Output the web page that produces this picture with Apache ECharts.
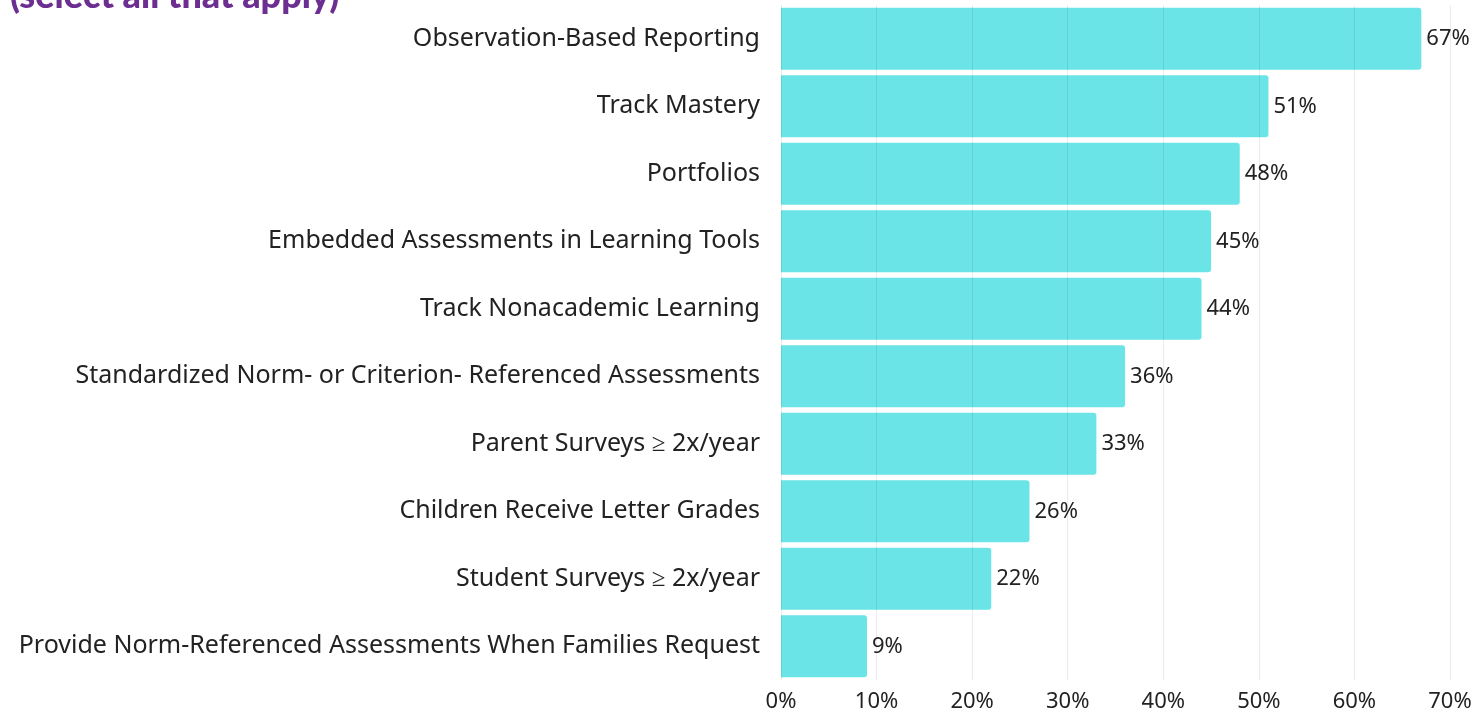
<!DOCTYPE html>
<html>
<head>
<meta charset="utf-8">
<script src="https://cdn.jsdelivr.net/npm/echarts@6/dist/echarts.min.js"></script>
<style>
  html, body { margin: 0; padding: 0; background: #fff; }
  #chart { width: 1481px; height: 715px; }
</style>
</head>
<body>
<div id="chart"></div>
<script>
// categories top to bottom
const categories = [
  'Observation-Based Reporting',
  'Track Mastery',
  'Portfolios',
  'Embedded Assessments in Learning Tools',
  'Track Nonacademic Learning',
  'Standardized Norm- or Criterion- Referenced Assessments',
  'Parent Surveys \u2265 2x/year',
  'Children Receive Letter Grades',
  'Student Surveys \u2265 2x/year',
  'Provide Norm-Referenced Assessments When Families Request'
]
const values = [67, 51, 48, 45, 44, 36, 33, 26, 22, 9]
const titleText = '(select all that apply)'

const chart = echarts.init(document.getElementById('chart'), null, { renderer: 'canvas' })

const option = {
  animation: false,
  textStyle: { fontFamily: 'Noto Sans' },
  graphic: [
    {
      type: 'text',
      left: 10,
      top: -22,
      style: {
        text: titleText,
        fill: '#6c2e91',
        font: '900 36px Lato'
      }
    }
  ],
  grid: {
    left: 781,
    right: 31,
    top: 5,
    bottom: 35
  },
  xAxis: {
    type: 'value',
    min: 0,
    max: 70,
    interval: 10,
    z: 3,
    axisLine: { show: false },
    axisTick: { show: false },
    axisLabel: {
      formatter: '{value}%',
      fontSize: 22,
      color: '#222',
      margin: 11
    },
    splitLine: { lineStyle: { color: 'rgba(0,0,0,0.08)', width: 1 } }
  },
  yAxis: {
    type: 'category',
    data: categories,
    inverse: true,
    axisLine: { show: false },
    axisTick: { show: false },
    axisLabel: {
      fontSize: 25,
      color: '#222',
      margin: 21
    }
  },
  series: [
    {
      type: 'bar',
      data: values,
      barCategoryGap: '8%',
      itemStyle: { color: '#6ae4e6', borderRadius: [0, 3, 3, 0] },
      label: {
        show: true,
        position: 'right',
        distance: 5,
        formatter: '{c}%',
        fontSize: 22,
        color: '#222'
      }
    }
  ]
}

chart.setOption(option)
window.addEventListener('resize', chart.resize)
</script>
</body>
</html>
